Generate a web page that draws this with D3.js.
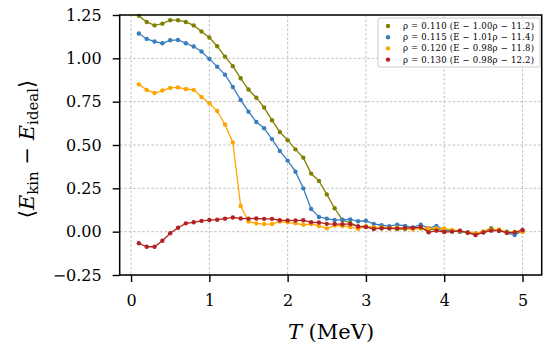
<!DOCTYPE html>
<html>
<head>
<meta charset="utf-8">
<script src="https://cdn.jsdelivr.net/npm/d3@7"></script>
<style>
  body { margin: 0; background: #fff; }
  svg { display: block; }
  svg text { font-family: 'DejaVu Serif', serif; }
</style>
</head>
<body>
<div id="chart"></div>
<script>
// temperatures (MeV)
const temps = [0.1, 0.2, 0.3, 0.4, 0.5, 0.6, 0.7, 0.8, 0.9, 1.0,
  1.1, 1.2, 1.3, 1.4, 1.5, 1.6, 1.7, 1.8, 1.9, 2.0,
  2.1, 2.2, 2.3, 2.4, 2.5, 2.6, 2.7, 2.8, 2.9, 3.0,
  3.1, 3.2, 3.3, 3.4, 3.5, 3.6, 3.7, 3.8, 3.9, 4.0,
  4.1, 4.2, 4.3, 4.4, 4.5, 4.6, 4.7, 4.8, 4.9, 5.0];

const rho110 = [1.245, 1.21, 1.19, 1.20, 1.22, 1.22, 1.21, 1.19, 1.155, 1.12,
  1.07, 1.01, 0.955, 0.885, 0.82, 0.773, 0.716, 0.643, 0.575, 0.528,
  0.475, 0.427, 0.335, 0.293, 0.215, 0.135, 0.068, 0.05, 0.03, 0.03,
  0.025, 0.02, 0.02, 0.015, 0.015, 0.02, 0.02, 0.01, 0.015, 0.005,
  0.005, 0, -0.005, -0.01, 0, 0.02, 0.005, 0, -0.005, 0];

const rho115 = [1.143, 1.112, 1.097, 1.087, 1.104, 1.106, 1.087, 1.068, 1.039, 0.997,
  0.952, 0.906, 0.835, 0.76, 0.692, 0.633, 0.597, 0.534, 0.466, 0.41,
  0.346, 0.25, 0.131, 0.085, 0.075, 0.067, 0.069, 0.071, 0.06, 0.063,
  0.045, 0.037, 0.032, 0.04, 0.033, 0.025, 0.04, 0.02, 0.033, 0.01,
  0.005, 0, -0.005, -0.013, -0.005, 0.01, 0.006, -0.006, -0.019, 0.006];

const rho120 = [0.85, 0.818, 0.8, 0.814, 0.829, 0.832, 0.823, 0.818, 0.777, 0.741,
  0.696, 0.618, 0.515, 0.148, 0.058, 0.048, 0.044, 0.044, 0.058, 0.054,
  0.048, 0.04, 0.044, 0.033, 0.019, 0.035, 0.033, 0.027, 0.016, 0.03,
  0.025, 0.025, 0.02, 0.025, 0.019, 0.013, 0.019, 0.019, 0.019, 0.019,
  0.01, 0.004, -0.006, -0.01, 0, 0.01, 0.013, -0.006, 0, 0];

const rho130 = [-0.067, -0.087, -0.087, -0.052, -0.009, 0.023, 0.048, 0.054, 0.062, 0.067,
  0.069, 0.075, 0.082, 0.076, 0.075, 0.076, 0.074, 0.074, 0.066, 0.065,
  0.064, 0.066, 0.054, 0.053, 0.045, 0.044, 0.043, 0.044, 0.03, 0.027,
  0.015, 0.02, 0.019, 0.019, 0.022, 0.022, 0.026, -0.004, 0.006, -0.002,
  0, 0.006, -0.006, -0.019, -0.004, 0.006, 0.006, -0.006, -0.004, 0.01];

const seriesNames = ["ρ = 0.110 (E − 1.00ρ − 11.2)", "ρ = 0.115 (E − 1.01ρ − 11.4)",
  "ρ = 0.120 (E − 0.98ρ − 11.8)", "ρ = 0.130 (E − 0.98ρ − 12.2)"];
const seriesValues = [rho110, rho115, rho120, rho130];
const seriesColors = ["#808000", "#3a7dbd", "#ffa500", "#b22222"];

const xTicks = [0, 1, 2, 3, 4, 5];
const yTicks = [-0.25, 0, 0.25, 0.5, 0.75, 1.0, 1.25];

const width = 550, height = 353;
const plotLeft = 119.7, plotRight = 541.7, plotTop = 15, plotBottom = 275;

const svg = d3.select("#chart").append("svg")
  .attr("width", width)
  .attr("height", height);

const x = d3.scaleLinear().domain([-0.145, 5.245]).range([plotLeft, plotRight]);
const y = d3.scaleLinear().domain([-0.25, 1.25]).range([plotBottom, plotTop]);

// grid
svg.append("g").selectAll("line")
  .data(xTicks).enter().append("line")
  .attr("x1", d => x(d)).attr("x2", d => x(d))
  .attr("y1", plotTop).attr("y2", plotBottom)
  .attr("stroke", "#b0b0b0").attr("stroke-width", 0.8)
  .attr("stroke-dasharray", "2.5,2");
svg.append("g").selectAll("line")
  .data(yTicks).enter().append("line")
  .attr("x1", plotLeft).attr("x2", plotRight)
  .attr("y1", d => y(d)).attr("y2", d => y(d))
  .attr("stroke", "#b0b0b0").attr("stroke-width", 0.8)
  .attr("stroke-dasharray", "2.5,2");

// series
const line = d3.line().x((d, i) => x(temps[i])).y(d => y(d));
seriesValues.forEach((vals, k) => {
  const g = svg.append("g");
  g.append("path")
    .datum(vals)
    .attr("d", line)
    .attr("fill", "none")
    .attr("stroke", seriesColors[k])
    .attr("stroke-width", 1.3);
  g.selectAll("circle")
    .data(vals).enter().append("circle")
    .attr("cx", (d, i) => x(temps[i]))
    .attr("cy", d => y(d))
    .attr("r", 2.2)
    .attr("fill", seriesColors[k]);
});

// axes
const xAxis = svg.append("g")
  .attr("transform", `translate(0,${plotBottom})`)
  .call(d3.axisBottom(x).tickValues(xTicks).tickSize(7).tickPadding(13).tickFormat(d3.format("d")));
const yAxis = svg.append("g")
  .attr("transform", `translate(${plotLeft},0)`)
  .call(d3.axisLeft(y).tickValues(yTicks).tickSize(7).tickPadding(11).tickFormat(d3.format(".2f")));

[xAxis, yAxis].forEach(ax => {
  ax.attr("font-family", null).attr("font-size", 16);
  ax.select(".domain").remove();
  ax.selectAll(".tick line").attr("stroke", "#000").attr("stroke-width", 1.4);
  ax.selectAll(".tick text").attr("fill", "#000");
});

// frame
svg.append("rect")
  .attr("x", plotLeft).attr("y", plotTop)
  .attr("width", plotRight - plotLeft).attr("height", plotBottom - plotTop)
  .attr("fill", "none").attr("stroke", "#000").attr("stroke-width", 1.5);

// axis labels
svg.append("text")
  .attr("x", 331)
  .attr("y", 339)
  .attr("text-anchor", "middle")
  .attr("font-size", 21)
  .html('<tspan font-style="italic">T</tspan> (MeV)');

const yl = svg.append("text")
  .attr("transform", "translate(34,149) rotate(-90)")
  .attr("text-anchor", "middle")
  .attr("font-size", 21);
yl.append("tspan").text("⟨");
yl.append("tspan").attr("font-style", "italic").text("E");
yl.append("tspan").attr("font-size", 15).attr("dy", 4).text("kin");
yl.append("tspan").attr("dy", -4).text(" − ");
yl.append("tspan").attr("font-style", "italic").text("E");
yl.append("tspan").attr("font-size", 15).attr("dy", 4).text("ideal");
yl.append("tspan").attr("dy", -4).text("⟩");

// legend
const legend = svg.append("g").attr("transform", "translate(378,18)");
legend.append("rect")
  .attr("width", 162).attr("height", 49).attr("rx", 2)
  .attr("fill", "#fff").attr("fill-opacity", 0.8)
  .attr("stroke", "#cccccc").attr("stroke-width", 1);
seriesNames.forEach((name, k) => {
  legend.append("circle")
    .attr("cx", 10).attr("cy", 8 + k * 11.2)
    .attr("r", 2.2).attr("fill", seriesColors[k]);
  legend.append("text")
    .attr("x", 25).attr("y", 8 + k * 11.2 + 3)
    .attr("font-size", 8.5)
    .attr("textLength", 131)
    .text(name);
});
</script>
</body>
</html>
